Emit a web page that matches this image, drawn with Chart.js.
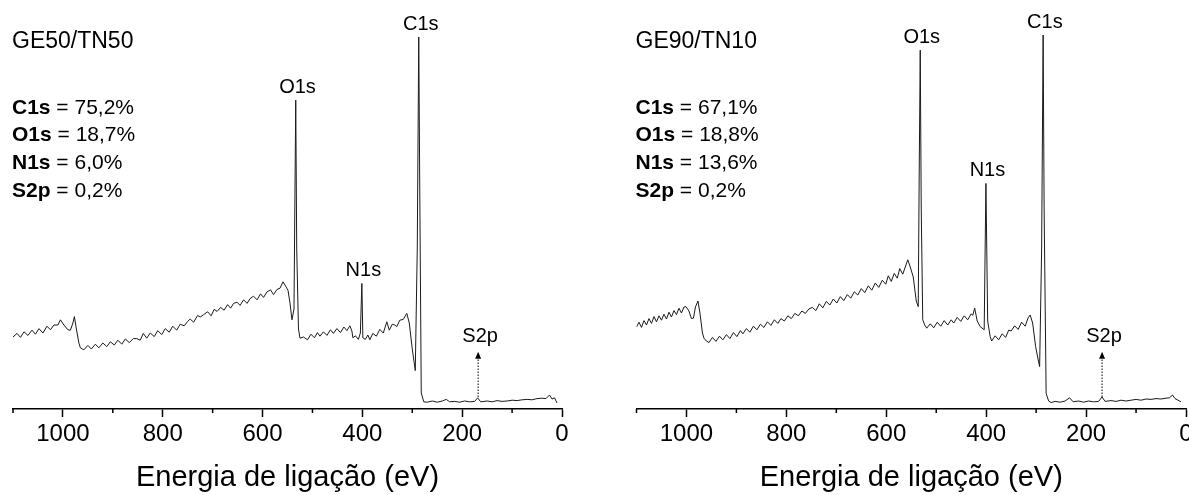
<!DOCTYPE html>
<html lang="pt">
<head>
<meta charset="utf-8">
<title>XPS - GE50/TN50 e GE90/TN10</title>
<script src="https://cdn.jsdelivr.net/npm/chart.js@4.4.1/dist/chart.umd.min.js"></script>
<style>
    html, body { margin: 0; padding: 0; background: #fff; }
    #painel { position: relative; width: 1189px; height: 495px; overflow: hidden; }
    canvas { position: absolute; top: 0; }
    #canvasA { left: 0; }
    #canvasB { left: 594px; }
</style>
</head>
<body>
<div id="painel">
    <canvas id="canvasA" width="594" height="495"></canvas>
    <canvas id="canvasB" width="595" height="495"></canvas>
</div>
<script>
/*
*   Espectros XPS (survey).
*   Energia de ligação em eV, intensidade em unidades arbitrárias (0 a 100).
*/
const energiaGE50 = [
    1100, 1092, 1085, 1078, 1070, 1062, 1055, 1048, 1040, 1032,
    1025, 1018, 1010, 1005, 998, 990, 985, 980, 977, 973,
    968, 965, 958, 950, 943, 935, 928, 920, 912, 905,
    897, 890, 882, 875, 867, 859, 852, 845, 839, 832,
    825, 817, 810, 802, 795, 787, 780, 772, 765, 757,
    750, 745, 738, 730, 725, 718, 710, 703, 697, 691,
    684, 677, 670, 664, 658, 651, 645, 638, 631, 625,
    618, 611, 604, 598, 591, 584, 578, 571, 565, 559,
    555, 549, 545, 541, 537, 535, 533.5, 531.5, 528, 525,
    518, 510, 503, 496, 490, 485, 478, 471, 464, 458,
    451, 444, 437, 431, 425, 421, 419, 414, 408, 404,
    401, 399, 394, 389, 385, 379, 372, 365, 358, 351,
    346, 340, 335, 331, 325, 318, 311, 306, 300, 294,
    290, 287, 285, 282, 277, 270, 260, 250, 240, 232,
    225, 215, 205, 195, 185, 175, 169, 163, 150, 140,
    130, 120, 110, 100, 90, 80, 70, 60, 50, 40,
    32, 25, 20, 15, 10
];
const intensidadeGE50 = [
    18.0, 18.9, 17.9, 19.3, 18.4, 19.7, 18.7, 20.1, 19.0, 20.7,
    19.8, 21.0, 21.0, 22.3, 21.0, 19.8, 19.7, 21.5, 23.1, 20.0,
    16.5, 15.3, 14.8, 15.9, 15.0, 16.2, 15.3, 16.5, 15.6, 16.8,
    16.0, 17.2, 16.2, 17.5, 16.6, 17.6, 17.6, 17.2, 18.9, 17.7,
    19.0, 18.1, 19.6, 18.6, 20.1, 19.2, 20.7, 19.7, 21.2, 20.8,
    21.9, 22.5, 21.7, 23.4, 23.0, 23.6, 24.3, 23.3, 24.9, 24.4,
    25.4, 24.7, 26.1, 25.2, 26.4, 26.7, 25.9, 27.3, 26.4, 27.6,
    28.2, 27.3, 28.8, 27.9, 29.3, 29.8, 28.6, 29.9, 30.2, 31.8,
    31.0, 29.7, 26.5, 22.3, 25.0, 55.0, 77.2, 40.0, 20.0, 17.7,
    18.0, 17.3, 18.7, 17.8, 19.1, 18.2, 19.3, 18.4, 19.8, 18.9,
    20.1, 19.1, 20.5, 19.6, 20.8, 19.5, 17.8, 18.3, 17.4, 19.0,
    31.4, 17.8, 17.4, 18.5, 17.3, 18.9, 18.2, 19.9, 19.0, 21.8,
    19.7, 21.2, 21.0, 20.6, 22.2, 22.4, 23.9, 21.5, 15.0, 9.6,
    40.0, 93.0, 55.0, 4.0, 1.8, 1.7, 2.0, 1.7, 2.0, 2.4,
    1.8, 1.9, 1.7, 2.0, 1.8, 1.9, 2.8, 1.8, 2.0, 1.8,
    2.1, 1.9, 2.0, 2.2, 2.1, 2.3, 2.4, 2.3, 2.6, 2.7,
    2.6, 3.5, 2.5, 2.8, 1.5
];

const energiaGE90 = [
    1100, 1095, 1090, 1085, 1080, 1075, 1070, 1065, 1060, 1055,
    1050, 1045, 1040, 1035, 1030, 1025, 1020, 1015, 1010, 1005,
    1001, 995, 990, 986, 982, 977, 973, 968, 965, 960,
    955, 948, 941, 934, 927, 920, 913, 906, 899, 892,
    887, 880, 873, 866, 859, 852, 845, 838, 831, 824,
    817, 811, 804, 797, 790, 783, 776, 769, 762, 755,
    748, 741, 734, 727, 720, 713, 706, 699, 692, 685,
    678, 671, 664, 657, 650, 643, 636, 629, 622, 615,
    608, 601, 596, 590, 584, 578, 573, 567, 562, 557,
    552, 546, 540, 536, 534, 532, 530, 527, 523, 519,
    512, 505, 498, 491, 484, 477, 470, 465, 458, 451,
    444, 437, 430, 427, 423, 418, 412, 406, 404, 400.5,
    397, 392, 389, 382, 375, 368, 361, 355, 350, 343,
    336, 329, 322, 316, 312, 307, 301, 297, 293, 289,
    286, 284, 280, 275, 270, 262, 252, 242, 233, 226,
    215, 205, 195, 185, 175, 168, 162, 150, 140, 130,
    120, 110, 100, 90, 80, 70, 60, 50, 40, 33,
    27, 22, 16, 10
];
const intensidadeGE90 = [
    20.5, 21.7, 20.4, 22.1, 21.0, 22.6, 21.4, 23.1, 21.8, 23.3,
    22.2, 23.7, 22.5, 24.2, 23.0, 24.6, 23.6, 25.2, 24.0, 25.5,
    25.6, 24.5, 22.6, 22.7, 25.5, 27.0, 24.0, 19.0, 17.7, 17.0,
    16.6, 17.9, 16.9, 18.2, 17.3, 18.6, 17.6, 19.1, 18.1, 19.6,
    18.8, 20.1, 19.2, 20.7, 19.8, 21.2, 20.4, 21.8, 20.9, 22.3,
    21.4, 22.6, 22.0, 23.3, 22.6, 23.9, 23.3, 24.5, 23.9, 25.0,
    25.4, 24.6, 26.3, 25.3, 26.9, 26.0, 27.5, 26.5, 28.1, 27.1,
    28.6, 27.7, 29.3, 28.5, 30.1, 29.1, 30.8, 29.7, 31.5, 30.4,
    32.2, 31.2, 33.3, 31.9, 33.9, 32.7, 35.1, 33.7, 35.5, 37.3,
    35.5, 33.0, 27.0, 25.6, 60.0, 89.7, 50.0, 22.3, 21.0, 20.2,
    21.3, 20.3, 21.7, 20.7, 22.1, 21.0, 22.3, 21.5, 22.9, 21.9,
    23.3, 22.3, 23.8, 23.4, 25.2, 22.0, 20.6, 20.0, 19.8, 56.4,
    22.0, 18.1, 17.0, 18.3, 17.3, 18.8, 17.9, 19.7, 19.5, 20.8,
    19.9, 21.7, 20.7, 22.8, 23.5, 21.5, 15.6, 13.0, 10.6, 40.0,
    93.5, 50.0, 3.9, 2.0, 1.6, 1.9, 1.7, 2.0, 2.8, 1.8,
    2.0, 1.7, 2.0, 1.8, 1.9, 3.0, 1.9, 2.1, 1.9, 2.2,
    2.0, 2.2, 2.4, 2.2, 2.5, 2.4, 2.6, 2.5, 2.7, 2.8,
    3.5, 2.6, 2.2, 1.8
];

// Composição elementar (% atômica) de cada amostra.
const elementos = ['C1s', 'O1s', 'N1s', 'S2p'];
const composicaoGE50 = ['75,2%', '18,7%', '6,0%', '0,2%'];
const composicaoGE90 = ['67,1%', '18,8%', '13,6%', '0,2%'];

// Picos rotulados e suas energias (eV).
const nomesPicos = ['C1s', 'O1s', 'N1s'];
const picosGE50 = [286, 533, 401];
const picosGE90 = [285.5, 532, 400.5];
const energiaS2p = 168;

const FONTE = '"Liberation Sans", Arial, sans-serif';

/*
*   Plugin para desenhar os textos, os ticks menores e a seta do S2p.
*/
const anotacoes = {
    id: 'anotacoes',
    afterDraw(chart, args, opts) {
        const { ctx, chartArea, scales: { x, y } } = chart;
        const dados = chart.data.datasets[0].data;
        ctx.save();
        ctx.fillStyle = '#000';
        ctx.strokeStyle = '#000';

        // Ticks menores (a cada 100 eV, sem rótulo).
        ctx.lineWidth = 1.5;
        for (let e = 100; e <= 1100; e += 200) {
            const px = x.getPixelForValue(e);
            ctx.beginPath();
            ctx.moveTo(px, chartArea.bottom);
            ctx.lineTo(px, chartArea.bottom + 4);
            ctx.stroke();
        }

        // Nome da amostra.
        const x0 = chartArea.left - 1;
        ctx.textBaseline = 'middle';
        ctx.textAlign = 'left';
        ctx.font = '23px ' + FONTE;
        ctx.fillText(opts.amostra, x0, 42);

        // Composição (nome do pico em negrito).
        elementos.forEach((el, i) => {
            const yy = 108 + i * 27.7;
            ctx.font = 'bold 21px ' + FONTE;
            ctx.fillText(el, x0, yy);
            const w = ctx.measureText(el).width;
            ctx.font = '21px ' + FONTE;
            ctx.fillText(' = ' + opts.composicao[i], x0 + w, yy);
        });

        // Rótulos sobre os picos.
        ctx.font = '20px ' + FONTE;
        ctx.textAlign = 'center';
        opts.picos.forEach((e, i) => {
            let max = 0;
            dados.forEach(p => { if (Math.abs(p.x - e) <= 3 && p.y > max) max = p.y; });
            ctx.fillText(nomesPicos[i], x.getPixelForValue(e) + 1.5, y.getPixelForValue(max) - 12.5);
        });

        // Seta pontilhada indicando o S2p.
        const sx = x.getPixelForValue(energiaS2p);
        const yBase = y.getPixelForValue(3);
        const yPonta = y.getPixelForValue(14.3);
        ctx.lineWidth = 1;
        ctx.setLineDash([1.5, 1.5]);
        ctx.beginPath();
        ctx.moveTo(sx, yBase);
        ctx.lineTo(sx, yPonta + 6);
        ctx.stroke();
        ctx.setLineDash([]);
        ctx.beginPath();
        ctx.moveTo(sx, yPonta);
        ctx.lineTo(sx - 3, yPonta + 7);
        ctx.lineTo(sx + 3, yPonta + 7);
        ctx.closePath();
        ctx.fill();
        ctx.fillText('S2p', sx + 2, y.getPixelForValue(18.2));

        ctx.restore();
    }
};

/*
*   Função para criar um painel do espectro.
*   Parâmetros: canvas, energias, intensidades, nome da amostra, composição, picos e margens.
*/
const criarEspectro = (canvas, energia, intensidade, amostra, composicao, picos, margem) => {
    new Chart(document.getElementById(canvas), {
        type: 'line',
        data: {
            datasets: [{
                data: energia.map((e, i) => ({ x: e, y: intensidade[i] })),
                borderColor: '#1a1a1a',
                borderWidth: 1,
                pointRadius: 0,
                tension: 0
            }]
        },
        options: {
            responsive: false,
            animation: false,
            layout: { padding: margem },
            plugins: {
                legend: { display: false },
                tooltip: { enabled: false },
                anotacoes: { amostra: amostra, composicao: composicao, picos: picos }
            },
            scales: {
                x: {
                    type: 'linear',
                    min: 0,
                    max: 1100,
                    reverse: true,
                    border: { display: true, color: '#000', width: 1.5 },
                    grid: {
                        display: true,
                        drawOnChartArea: false,
                        drawTicks: true,
                        tickLength: 8,
                        tickWidth: 1.5,
                        tickColor: c => (c.tick && c.tick.value % 200 === 0) ? '#000' : 'rgba(0,0,0,0)'
                    },
                    ticks: {
                        stepSize: 100,
                        autoSkip: false,
                        maxRotation: 0,
                        padding: 3,
                        color: '#000',
                        font: { family: FONTE, size: 24 },
                        callback: v => (v % 200 === 0) ? String(v) : ''
                    },
                    title: {
                        display: true,
                        text: 'Energia de ligação (eV)',
                        color: '#000',
                        font: { family: FONTE, size: 29 },
                        padding: { top: 0, bottom: 0 }
                    },
                    afterFit: s => {
                        s.height = 86;
                        s.paddingLeft = 0;
                        s.paddingRight = 0;
                    }
                },
                y: { display: false, min: 0, max: 100 }
            }
        },
        plugins: [anotacoes]
    });
};

criarEspectro('canvasA', energiaGE50, intensidadeGE50, 'GE50/TN50', composicaoGE50, picosGE50,
    { left: 13, right: 32, top: 9, bottom: 0 });
criarEspectro('canvasB', energiaGE90, intensidadeGE90, 'GE90/TN10', composicaoGE90, picosGE90,
    { left: 42.5, right: 3, top: 9, bottom: 0 });
</script>
</body>
</html>
